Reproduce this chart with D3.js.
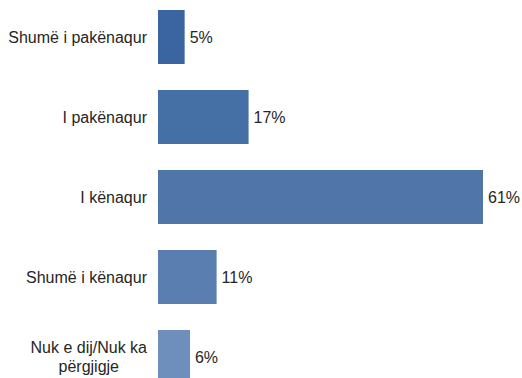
<!DOCTYPE html>
<html>
<head>
<meta charset="utf-8">
<script src="https://cdn.jsdelivr.net/npm/d3@7"></script>
<style>
  html, body { margin: 0; padding: 0; background: #ffffff; }
  svg { display: block; }
</style>
</head>
<body>
<svg id="chart" width="522" height="378"></svg>
<script>
// Survey answers (satisfaction), share of respondents in %
const categories = [
  ["Shumë i pakënaqur"],
  ["I pakënaqur"],
  ["I kënaqur"],
  ["Shumë i kënaqur"],
  ["Nuk e dij/Nuk ka", "përgjigje"]
];
const values = [5, 17, 61, 11, 6];
const valueLabels = ["5%", "17%", "61%", "11%", "6%"];
const barColors = ["#3a65a1", "#4570a6", "#5075a9", "#5b7eb0", "#6e8ebb"];

const width = 522, height = 378;
const svg = d3.select("#chart");

const keys = d3.range(categories.length);

const x = d3.scaleLinear().domain([0, 61]).range([158, 483]);
const y = d3.scaleBand()
  .domain(keys)
  .range([-3, 397])
  .paddingInner(0.325)
  .paddingOuter(0.1625);

const fontFamily = "Arial, 'Liberation Sans', Helvetica, sans-serif";
const textColor = "#262626";

// Bars
svg.append("g")
  .selectAll("rect")
  .data(keys)
  .join("rect")
  .attr("x", x(0))
  .attr("y", i => y(i))
  .attr("width", i => x(values[i]) - x(0))
  .attr("height", y.bandwidth())
  .attr("fill", i => barColors[i]);

// Value labels
svg.append("g")
  .selectAll("text")
  .data(keys)
  .join("text")
  .attr("x", i => x(values[i]) + 5)
  .attr("y", i => y(i) + y.bandwidth() / 2)
  .attr("dy", "0.35em")
  .attr("font-family", fontFamily)
  .attr("font-size", 16)
  .attr("fill", textColor)
  .text(i => valueLabels[i]);

// Category labels (multi-line labels are centred within their block)
const labelRight = 147;
const lineHeight = 18.5;
const labelGroup = svg.append("g");
keys.forEach(i => {
  const lines = categories[i];
  const cy = y(i) + y.bandwidth() / 2;
  const t = labelGroup.append("text")
    .attr("font-family", fontFamily)
    .attr("font-size", 16)
    .attr("fill", textColor);
  const spans = lines.map((line, k) =>
    t.append("tspan")
      .attr("y", cy + (k - (lines.length - 1) / 2) * lineHeight)
      .attr("dy", "0.35em")
      .text(line)
  );
  if (lines.length === 1) {
    t.attr("text-anchor", "end");
    spans[0].attr("x", labelRight);
  } else {
    const widest = d3.max(spans, s => s.node().getComputedTextLength());
    t.attr("text-anchor", "middle");
    spans.forEach(s => s.attr("x", labelRight - widest / 2));
  }
});
</script>
</body>
</html>
